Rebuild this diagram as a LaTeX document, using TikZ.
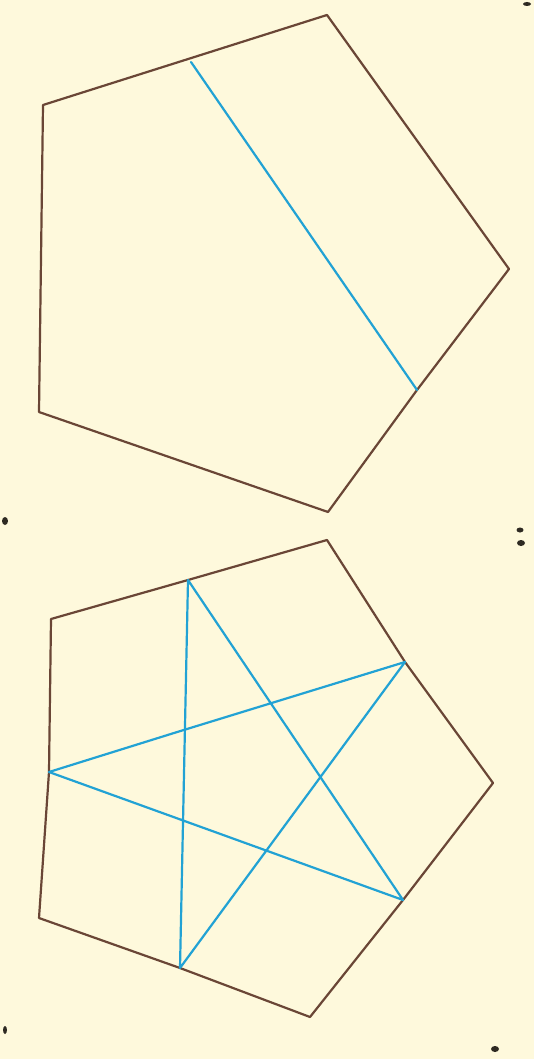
\documentclass[tikz,border=0pt]{standalone}
\definecolor{paper}{HTML}{FEF9DC}
\definecolor{pen}{HTML}{6A4636}
\definecolor{ink}{HTML}{22A2D4}
\definecolor{speck}{HTML}{2E2A22}
\begin{document}
\begin{tikzpicture}[x=1pt,y=-1pt,
  edge/.style={draw=pen,line width=2.2pt,line join=round,line cap=round},
  chord/.style={draw=ink,line width=2.2pt,line join=round,line cap=round},
  blob/.style={fill=speck}]
\fill[paper] (0,0) rectangle (534,1059);
\useasboundingbox (0,0) rectangle (534,1059);
% top pentagon
\coordinate (a1) at (43,105);
\coordinate (a2) at (327,15);
\coordinate (a3) at (509,269);
\coordinate (a4) at (417,390);
\coordinate (a5) at (328,512);
\coordinate (a6) at (39,412);
\coordinate (am) at (191,62);
\draw[edge] (a1) -- (a2) -- (a3) -- (a4) -- (a5) -- (a6) -- cycle;
\draw[chord] (am) -- (a4);
% bottom pentagon
\coordinate (b1) at (51,619);
\coordinate (b2) at (327,540);
\coordinate (b3) at (493,783);
\coordinate (b4) at (403,900);
\coordinate (b5) at (310,1017);
\coordinate (b6) at (39,918);
\coordinate (s1) at (188,580);
\coordinate (s2) at (405,662);
\coordinate (s3) at (403,900);
\coordinate (s4) at (180,968);
\coordinate (s5) at (49,772);
\coordinate (k) at (174,733);
\draw[edge] (b1) -- (s1) -- (b2) -- (s2) -- (b3) -- (b4) -- (b5) -- (s4) -- (b6) -- (s5) -- cycle;
\draw[chord] (s1) -- (s3) -- (s5) -- (k) -- (s2) -- (s4) -- cycle;
% specks
\fill[blob] (5,521) ellipse (3 and 4);
\fill[blob] (520,530) ellipse (3.5 and 2.5);
\fill[blob] (521,543) ellipse (4 and 3);
\fill[blob] (5,1030) ellipse (2 and 4);
\fill[blob] (495,1049) ellipse (4 and 3);
\fill[blob] (527,4) ellipse (4 and 2);
\end{tikzpicture}
\end{document}
